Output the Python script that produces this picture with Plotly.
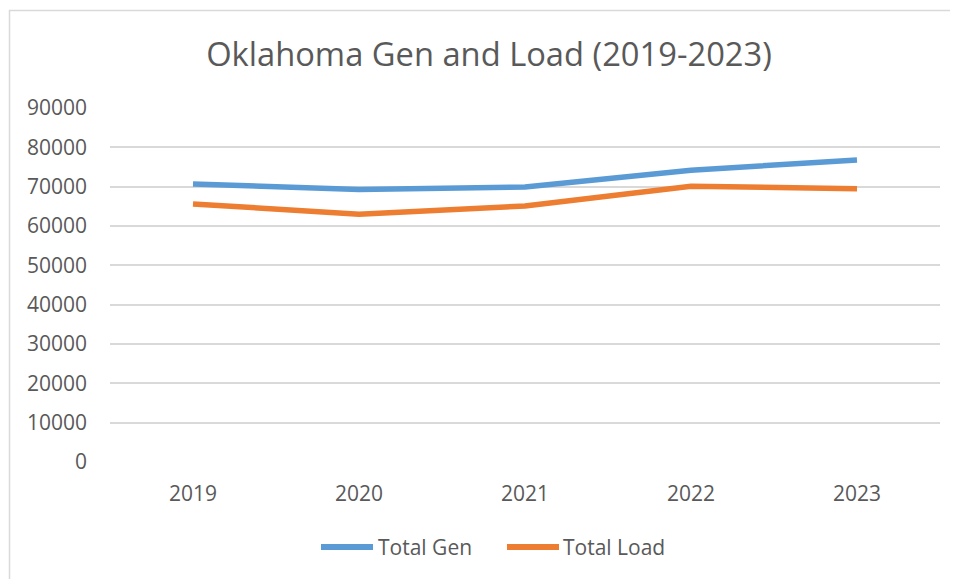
import plotly.graph_objects as go

years = ["2019", "2020", "2021", "2022", "2023"]
total_gen = [70700, 69300, 69900, 74200, 76800]
total_load = [65600, 63000, 65100, 70100, 69500]
y_ticks = [0, 10000, 20000, 30000, 40000, 50000, 60000, 70000, 80000, 90000]
series_names = ["Total Gen", "Total Load"]
series_colors = ["#5B9BD5", "#ED7D31"]

OFF = 8  # page body margin
PW, PH = 958, 579
W, H = PW - OFF, PH - OFF
# plot area in page pixels
PL, PR, PT, PB = 110, 940, 108, 462
L, T = PL - OFF, PT - OFF
R, B = W - (PR - OFF), H - (PB - OFF)
pw, ph = W - L - R, H - T - B

def px_x(x):
    return (x - OFF - L) / pw

def px_y(y):
    return (H - B - (y - OFF)) / ph

def cx(x):
    return (x - OFF) / W

def cy(y):
    return 1 - (y - OFF) / H

fig = go.Figure()
for name, vals, col in zip(series_names, [total_gen, total_load], series_colors):
    fig.add_trace(go.Scatter(x=years, y=vals, mode="lines", name=name,
                             line=dict(color=col, width=5.5), showlegend=False))

fig.add_shape(type="rect", xref="paper", yref="paper",
              x0=px_x(9.5), x1=px_x(PW + 30), y0=px_y(PH + 30), y1=px_y(10.5),
              line=dict(color="#D9D9D9", width=1.5), fillcolor="rgba(0,0,0,0)", layer="below")

# custom legend (line samples + labels)
leg_y = 547
leg_items = [(321, 373, 377), (507, 559, 562)]
for (x0, x1, tx), name, col in zip(leg_items, series_names, series_colors):
    fig.add_shape(type="line", xref="paper", yref="paper",
                  x0=px_x(x0), x1=px_x(x1), y0=px_y(leg_y), y1=px_y(leg_y),
                  line=dict(color=col, width=6))
    fig.add_annotation(text=name, xref="paper", yref="paper", x=px_x(tx), y=px_y(leg_y),
                       xanchor="left", yanchor="middle", showarrow=False,
                       font=dict(size=21, color="#595959"), borderpad=0)

fig.update_layout(
    width=W, height=H,
    margin=dict(l=L, r=R, t=T, b=B),
    paper_bgcolor="white", plot_bgcolor="white",
    font=dict(family="Open Sans", color="#595959", size=21),
    title=dict(text="Oklahoma Gen and Load (2019-2023)", xref="container", x=cx(489),
               xanchor="center", yref="container", y=cy(55), yanchor="middle",
               font=dict(family="Open Sans", size=32.7, color="#595959")),
    showlegend=False,
    xaxis=dict(type="category", range=[-0.5, 4.5], showgrid=False, zeroline=False,
               showline=False, ticks="", ticklabelstandoff=17,
               tickfont=dict(size=21, color="#595959")),
    yaxis=dict(range=[0, 90000], tickvals=y_ticks, ticktext=[str(v) for v in y_ticks],
               showgrid=True, gridcolor="#D9D9D9", gridwidth=1.5, zeroline=False,
               showline=False, ticks="", ticklabelstandoff=22,
               tickfont=dict(size=21, color="#595959")),
)

fig.write_html("out.html")
